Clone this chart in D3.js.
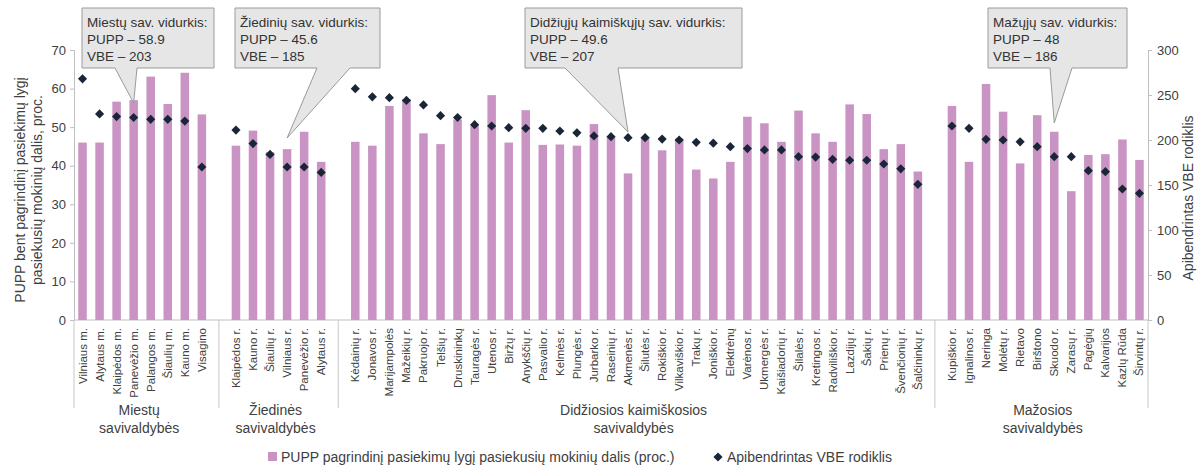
<!DOCTYPE html>
<html><head><meta charset="utf-8">
<script src="https://cdn.jsdelivr.net/npm/d3@7/dist/d3.min.js"></script>
<style>
body{margin:0;background:#fff;}
svg{display:block;font-family:"Liberation Sans",Arial,sans-serif;}
</style></head>
<body><svg id="c" width="1203" height="470"></svg>
<script>
// ---- data ----
const groupNames = [["Miestų","savivaldybės"],["Žiedinės","savivaldybės"],["Didžiosios kaimiškosios","savivaldybės"],["Mažosios","savivaldybės"]];
const catsCity = ["Vilniaus m.","Alytaus m.","Klaipėdos m.","Panevėžio m.","Palangos m.","Šiaulių m.","Kauno m.","Visagino"];
const puppCity = [46.0,46.0,56.6,57.0,63.1,56.0,64.1,53.3];
const vbeCity  = [268,229,226,225,223,223,221,170];
const catsRing = ["Klaipėdos r.","Kauno r.","Šiaulių r.","Vilniaus r.","Panevėžio r.","Alytaus r."];
const puppRing = [45.2,49.1,43.5,44.3,48.8,41.0];
const vbeRing  = [211,196,184,170,170,164];
const catsBig = ["Kėdainių r.","Jonavos r.","Marijampolės","Mažeikių r.","Pakruojo r.","Telšių r.","Druskininkų","Tauragės r.","Utenos r.","Biržų r.","Anykščių r.","Pasvalio r.","Kelmės r.","Plungės r.","Jurbarko r.","Raseinių r.","Akmenės r.","Šilutės r.","Rokiškio r.","Vilkaviškio r.","Trakų r.","Joniškio r.","Elektrėnų","Varėnos r.","Ukmergės r.","Kaišiadorių r.","Šilalės r.","Kretingos r.","Radviliškio r.","Lazdijų r.","Šakių r.","Prienų r.","Švenčionių r.","Šalčininkų r."];
const puppBig = [46.2,45.2,55.5,57.3,48.4,45.6,52.0,50.5,58.3,46.0,54.4,45.4,45.5,45.2,50.8,47.5,38.0,47.5,44.0,47.0,39.0,36.7,41.0,52.7,51.0,46.2,54.3,48.4,46.2,55.9,53.4,44.3,45.6,38.5];
const vbeBig  = [257,248,247,244,239,227,225,217,215.6,213.7,213,213,210,208,204.5,203.7,202.6,202.6,201,200,197.4,196.5,192.6,190.5,189,189,181.5,181,178.5,177.5,177.5,173.3,168,150.7];
const catsSmall = ["Kupiškio r.","Ignalinos r.","Neringa","Molėtų r.","Rietavo","Birštono","Skuodo r.","Zarasų r.","Pagėgių","Kalvarijos","Kazlų Rūda","Širvintų r."];
const puppSmall = [55.5,41.0,61.2,54.0,40.6,53.1,48.8,33.4,42.8,43.0,46.8,41.5];
const vbeSmall  = [215.6,213,200.7,200,198,192.6,181.5,181.5,165.9,164.8,145.6,140.7];
const leftTicks = [0,10,20,30,40,50,60,70];
const rightTicks = [0,50,100,150,200,250,300];
const calloutTitles = ["Miestų sav. vidurkis:","Žiedinių sav. vidurkis:","Didžiųjų kaimiškųjų sav. vidurkis:","Mažųjų sav. vidurkis:"];
const calloutPupp = ["58.9","45.6","49.6","48"];
const calloutVbe = ["203","185","207","186"];
const leftTitle = ["PUPP bent pagrindinį pasiekimų lygį","pasiekusių mokinių dalis, proc."];
const rightTitle = "Apibendrintas VBE rodiklis";
const legendBar = "PUPP pagrindinį pasiekimų lygį pasiekusių mokinių dalis (proc.)";
const legendDot = "Apibendrintas VBE rodiklis";

// ---- build ----
const groups = [
  {cats:catsCity,pupp:puppCity,vbe:vbeCity},
  {cats:catsRing,pupp:puppRing,vbe:vbeRing},
  {cats:catsBig,pupp:puppBig,vbe:vbeBig},
  {cats:catsSmall,pupp:puppSmall,vbe:vbeSmall}
];
const rows=[]; const slots=[]; const gapKeys=[];
groups.forEach((g,gi)=>{
  if(gi>0){const k="__gap"+gi; slots.push(k); gapKeys.push(k);}
  g.cats.forEach((c,i)=>{const key=gi+"|"+c; slots.push(key); rows.push({key,name:c,pupp:g.pupp[i],vbe:g.vbe[i],g:gi});});
});

const svg=d3.select("#c");
const X0=74, X1=1148, Y0=320, Y1=50;
const x=d3.scaleBand().domain(slots).range([X0,X1]).padding(0);
const yL=d3.scaleLinear().domain([0,70]).range([Y0,Y1]);
const yR=d3.scaleLinear().domain([0,300]).range([Y0,Y1]);
const bw=x.bandwidth()*0.5;
const txt="#404040";

// axes
const gl=svg.append("g").attr("transform",`translate(${X0},0)`).call(d3.axisLeft(yL).tickValues(leftTicks).tickSize(4).tickPadding(4));
const gr=svg.append("g").attr("transform",`translate(${X1},0)`).call(d3.axisRight(yR).tickValues(rightTicks).tickSize(4).tickPadding(5));
[gl,gr].forEach(g=>{g.select(".domain").attr("stroke","#bfbfbf");g.selectAll(".tick line").attr("stroke","#bfbfbf");
  g.selectAll("text").attr("fill",txt).style("font-size","13px").style("font-family","Liberation Sans, Arial, sans-serif");});
svg.append("line").attr("x1",X0).attr("x2",X1).attr("y1",Y0).attr("y2",Y0).attr("stroke","#bfbfbf");

// bars
svg.append("g").selectAll("rect").data(rows).join("rect")
  .attr("x",d=>x(d.key)+x.bandwidth()/2-bw/2).attr("width",bw)
  .attr("y",d=>yL(d.pupp)).attr("height",d=>Y0-yL(d.pupp)).attr("fill","#c994c4");
// dots
svg.append("g").selectAll("path").data(rows).join("path")
  .attr("d",d3.symbol(d3.symbolSquare,42))
  .attr("transform",d=>`translate(${x(d.key)+x.bandwidth()/2},${yR(d.vbe)}) rotate(45)`)
  .attr("fill","#1a2638");

// category labels
svg.append("g").selectAll("text").data(rows).join("text")
  .attr("transform",d=>`translate(${x(d.key)+x.bandwidth()/2+4},${Y0+8}) rotate(-90)`)
  .attr("text-anchor","end").attr("fill",txt).style("font-size","11.5px").text(d=>d.name);

// separators
const sepX=[X0,...gapKeys.map(k=>x(k)+x.bandwidth()/2),X1];
svg.append("g").selectAll("line").data(sepX).join("line")
  .attr("x1",d=>d).attr("x2",d=>d).attr("y1",Y0).attr("y2",408).attr("stroke","#c8c8c8");
// group labels
groupNames.forEach((gn,gi)=>{
  const ks=rows.filter(r=>r.g===gi);
  const cx=(x(ks[0].key)+x(ks[ks.length-1].key)+x.bandwidth())/2-3;
  const t=svg.append("text").attr("text-anchor","middle").attr("fill",txt).style("font-size","14px");
  gn.forEach((s,i)=>t.append("tspan").attr("x",cx).attr("y",415+i*18).text(s));
});

// axis titles
const lt=svg.append("text").attr("transform","translate(25,190) rotate(-90)").attr("text-anchor","middle").attr("fill",txt).style("font-size","14px");
leftTitle.forEach((s,i)=>lt.append("tspan").attr("x",0).attr("y",i*17).text(s));
svg.append("text").attr("transform","translate(1193,198) rotate(-90)").attr("text-anchor","middle").attr("fill",txt).style("font-size","14px").text(rightTitle);

// callouts
const callouts=[
  {bx:82,bw:132,tipKey:"0|Panevėžio m.",tipY:103,b1:115,b2:137},
  {bx:235,bw:145,tipKey:"1|Vilniaus r.",tipY:138,b1:317,b2:350},
  {bx:525,bw:217,tipKey:"2|Akmenės r.",tipY:132,b1:565,b2:618},
  {bx:988,bw:139,tipKey:"3|Skuodo r.",tipY:123,b1:1050,b2:1072}
];
const by=8,bh=60;
callouts.forEach((c,i)=>{
  const tx=x(c.tipKey)+x.bandwidth()/2;
  const pts=[[c.bx,by],[c.bx+c.bw,by],[c.bx+c.bw,by+bh],[c.b2,by+bh],[tx,c.tipY],[c.b1,by+bh],[c.bx,by+bh]];
  svg.append("path").attr("d",d3.line()(pts)+"Z").attr("fill","#e6e6e6").attr("stroke","#9a9a9a").attr("stroke-width",1);
  const t=svg.append("text").attr("fill","#333").style("font-size","13.5px");
  [calloutTitles[i],"PUPP – "+calloutPupp[i],"VBE – "+calloutVbe[i]].forEach((s,j)=>t.append("tspan").attr("x",c.bx+5).attr("y",by+19+j*17).text(s));
});

// legend
svg.append("rect").attr("x",268).attr("y",452).attr("width",9).attr("height",9).attr("fill","#c994c4");
svg.append("text").attr("x",281).attr("y",462).attr("fill",txt).style("font-size","14px").text(legendBar);
svg.append("path").attr("d",d3.symbol(d3.symbolSquare,42)).attr("transform","translate(718,457) rotate(45)").attr("fill","#1a2638");
svg.append("text").attr("x",727).attr("y",462).attr("fill",txt).style("font-size","14px").text(legendDot);
</script></body></html>
